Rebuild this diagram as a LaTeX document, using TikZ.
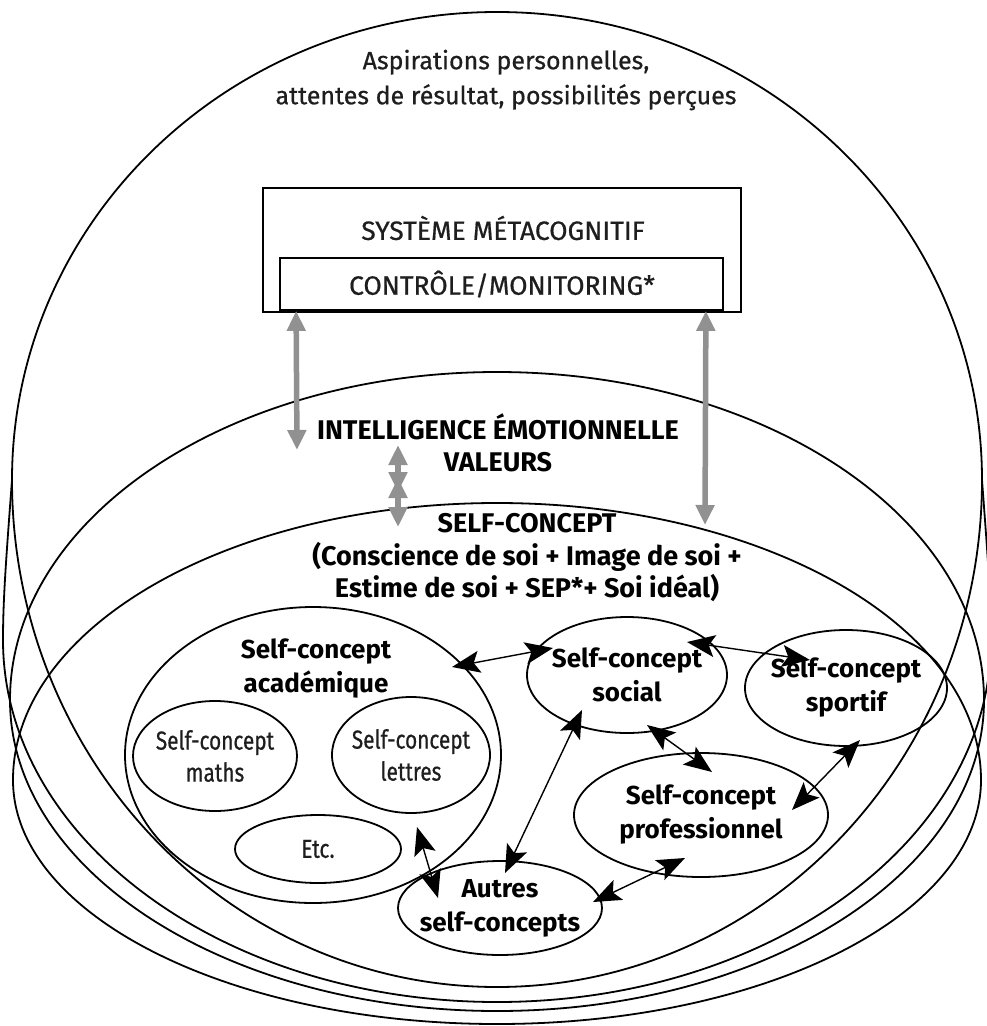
\documentclass[tikz,border=0pt]{standalone}
\usepackage{fontspec}
\setmainfont{Fira Sans}
\newfontfamily\plainsans{Fira Sans}[FakeBold=0.6]
\newfontfamily\narrowsans{Fira Sans}[FakeStretch=0.8, FakeBold=0.6]
\usetikzlibrary{arrows.meta,shapes.geometric,calc}
\definecolor{inkgray}{RGB}{30,30,30}
\definecolor{linkgray}{RGB}{145,145,145}
\begin{document}
\begin{tikzpicture}[x=1pt,y=-1pt,
  zone/.style={line width=1.8pt},
  frame/.style={draw, line width=1.8pt, inner sep=0pt},
  plain/.style={font=\plainsans\fontsize{25}{35}\selectfont, align=center, text=inkgray, inner sep=0pt},
  caps/.style={font=\plainsans\fontsize{26.5}{32}\selectfont, align=center, text=inkgray, inner sep=0pt},
  heading/.style={font=\fontsize{27}{32.5}\selectfont\bfseries, align=center, inner sep=0pt},
  sclabel/.style={font=\fontsize{26}{34}\selectfont\bfseries, align=center, inner sep=0pt},
  sublabel/.style={font=\narrowsans\fontsize{26}{32}\selectfont, align=center, text=inkgray, inner sep=0pt},
  sc/.style 2 args={draw, ellipse, line width=1.8pt, inner sep=0pt, minimum width=#1, minimum height=#2},
  link/.style={line width=1.4pt, >={Stealth[length=28pt,width=22pt,inset=6pt]}, <->},
  glink/.style={draw=linkgray, fill=linkgray, line width=5.5pt, >={Triangle[length=20pt,width=18pt]}, <->},
]
\useasboundingbox (0,0) rectangle (986,1026);
\fill[white] (0,0) rectangle (986,1026);

% outer zone: aspirations (one dome, two lower outlines)
\draw[zone] (12,480) arc[start angle=180,end angle=360,x radius=485,y radius=468]
                     arc[start angle=0,end angle=180,x radius=485,y radius=507];
\draw[zone] (12,480) .. controls (6,560) and (3,600) .. (3,640)
                     arc[start angle=180,end angle=0,x radius=494,y radius=362]
                     .. controls (991,600) and (988,560) .. (982,480);
% emotional intelligence zone
\draw[zone] (10,700) arc[start angle=180,end angle=360,x radius=487,y radius=328]
                     arc[start angle=0,end angle=180,x radius=487,y radius=311] -- cycle;
% self-concept zone
\draw[zone] (13,780) arc[start angle=180,end angle=360,x radius=484,y radius=277]
                     arc[start angle=0,end angle=180,x radius=484,y radius=244] -- cycle;

\node[plain] (asp) at (506,80) {Aspirations personnelles,\\attentes de résultat, possibilités perçues};

% metacognitive system
\node[frame, minimum width=478pt, minimum height=124pt] (meta) at (502,250) {};
\node[frame, minimum width=443pt, minimum height=52pt] (ctrl) at (501.5,284) {};
\node[caps] (metatxt) at (503,228) {SYSTÈME MÉTACOGNITIF};
\node[caps] (ctrltxt) at (502,284) {CONTRÔLE/MONITORING*};

\node[heading] (emo) at (498,443) {INTELLIGENCE ÉMOTIONNELLE\\VALEURS};
\node[heading] (self) at (527,558) {SELF-CONCEPT\\(Conscience de soi + Image de soi +\\Estime de soi + SEP*+ Soi idéal)};

% grey links between levels
\coordinate (g1) at (297,450);
\coordinate (g2) at (705,525);
\coordinate (g3a) at (398,445);
\coordinate (g3b) at (398,492);
\coordinate (g3c) at (398,478);
\coordinate (g3d) at (398,527);
\draw[glink] ($(ctrl.south west)+(17,0)$) -- (g1);
\draw[glink] ($(ctrl.south east)+(-18,0)$) -- (g2);
\draw[glink] (g3a) -- (g3b);
\draw[glink] (g3c) -- (g3d);

% domain self-concepts
\node[sc={376pt}{296pt}] (acad) at (313,755) {};
\node[sclabel] (acadtxt) at (316,669) {Self-concept\\académique};
\node[sc={164pt}{110pt}] (maths) at (215,756) {};
\node[sublabel] (mathstxt) at (maths.center) {Self-concept\\maths};
\node[sc={158pt}{116pt}] (lettres) at (411,755) {};
\node[sublabel] (lettrestxt) at (lettres.center) {Self-concept\\lettres};
\node[sc={166pt}{68pt}] (etc) at (318,849) {};
\node[sublabel] (etctxt) at (etc.center) {Etc.};

\node[sc={200pt}{116pt}] (social) at (627,675) {};
\node[sclabel] (socialtxt) at (social.center) {Self-concept\\social};
\node[sc={202pt}{116pt}] (sportif) at (846,688) {};
\node[sclabel] (sportiftxt) at (sportif.center) {Self-concept\\sportif};
\node[sc={254pt}{124pt}] (prof) at (701,815) {};
\node[sclabel] (proftxt) at (prof.center) {Self-concept\\professionnel};
\node[sc={204pt}{94pt}] (autres) at (500,908) {};
\node[sclabel] (autrestxt) at (autres.center) {Autres\\self-concepts};

% links between self-concepts
\draw[link] ($(acad.center)+(139,-88)$) -- ($(social.center)+(-74,-27)$);
\draw[link] ($(social.center)+(60,-33)$) -- ($(sportif.center)+(-36,-28)$);
\draw[link] ($(social.center)+(20,50)$) -- ($(prof.center)+(11,-43)$);
\draw[link] ($(sportif.center)+(14,52)$) -- ($(prof.center)+(91,-5)$);
\draw[link] ($(social.center)+(-45,35)$) -- ($(autres.center)+(5,-35)$);
\draw[link] ($(autres.center)+(93,-6)$) -- ($(prof.center)+(-16,43)$);
\draw[link] ($(acad.center)+(104,72)$) -- ($(autres.center)+(-62,-10)$);
\end{tikzpicture}
\end{document}
